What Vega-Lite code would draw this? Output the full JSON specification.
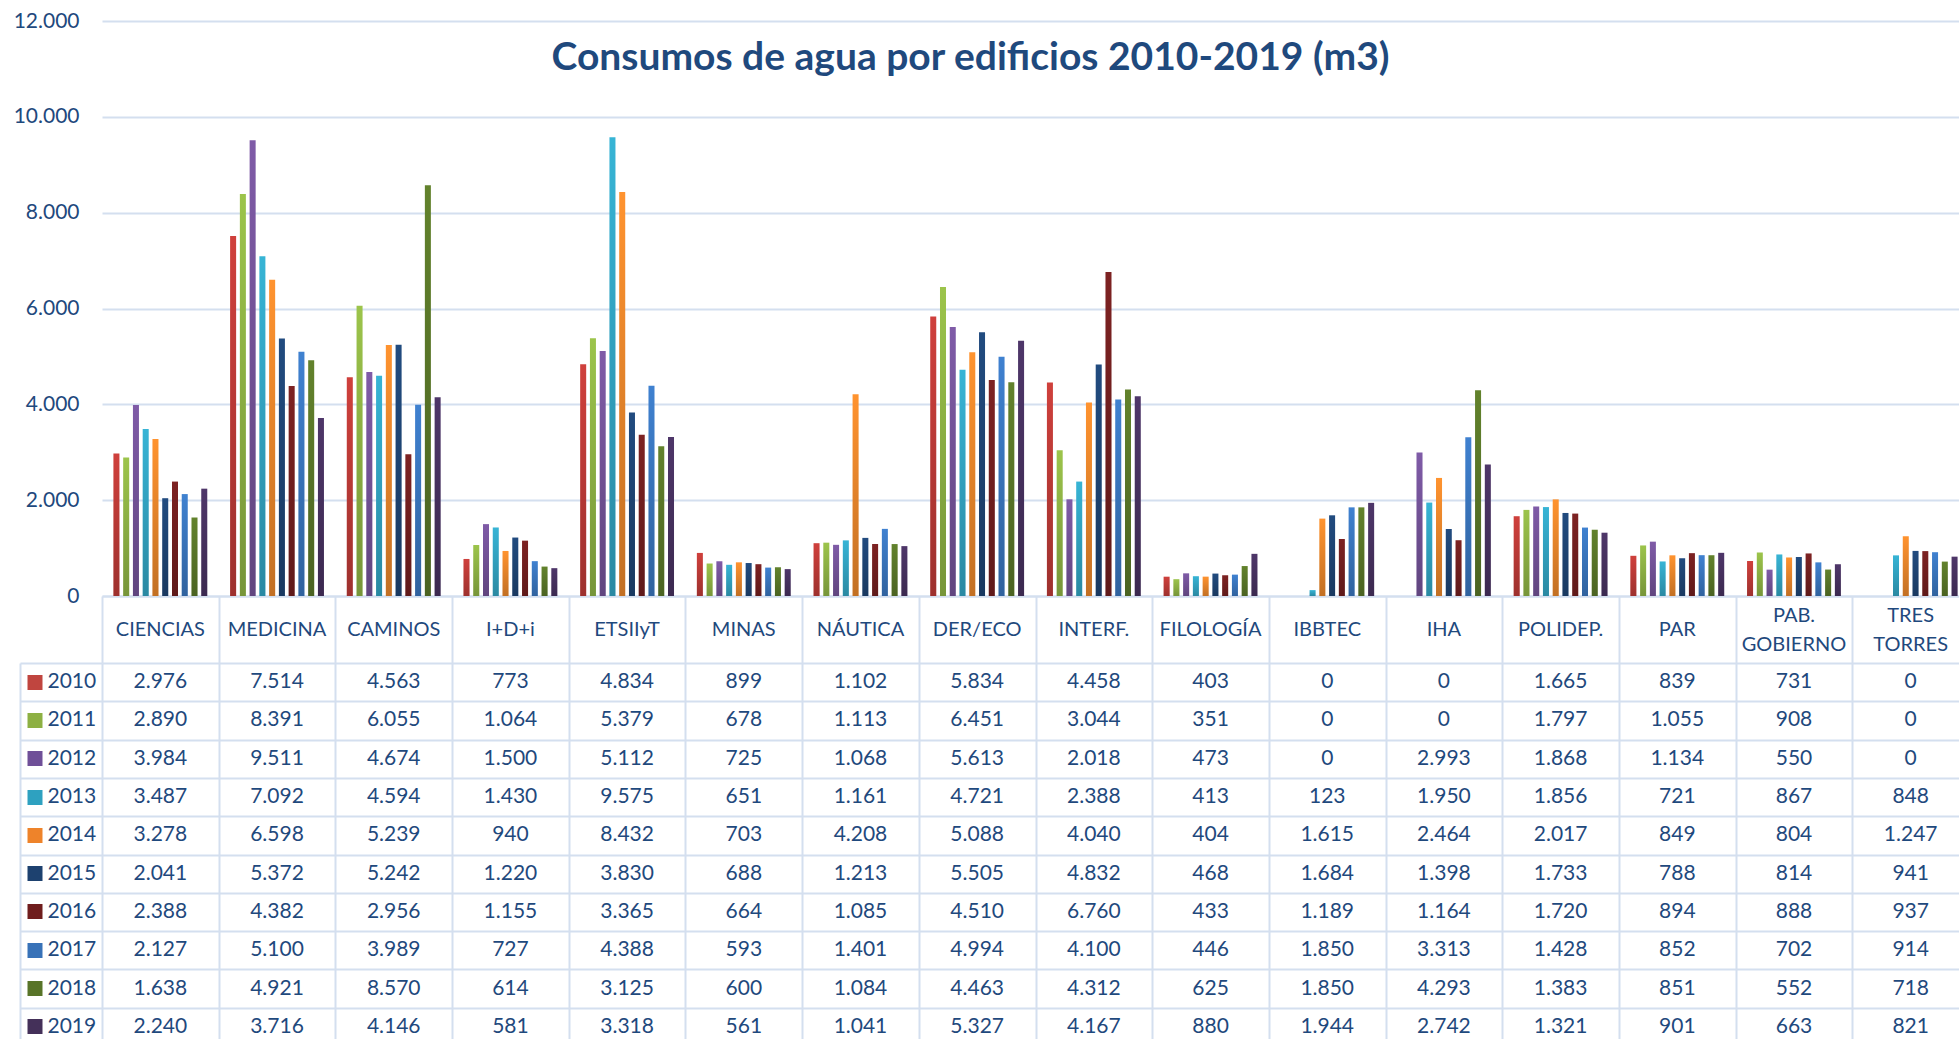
{
  "$schema": "https://vega.github.io/schema/vega-lite/v6.json",
  "usermeta": {"embedOptions": {"actions": false}},
  "background": "white",
  "padding": {"left": 13, "top": 10, "right": 0, "bottom": 0},
  "title": {
    "text": "Consumos de agua por edificios 2010-2019 (m3)",
    "font": "Lato", "fontSize": 39, "fontWeight": "bold", "color": "#1F497D",
    "anchor": "middle", "frame": "group", "offset": -68, "dx": -65
  },
  "data": {"values": [
    {"b": "CIENCIAS", "2010": 2976, "2011": 2890, "2012": 3984, "2013": 3487, "2014": 3278, "2015": 2041, "2016": 2388, "2017": 2127, "2018": 1638, "2019": 2240},
    {"b": "MEDICINA", "2010": 7514, "2011": 8391, "2012": 9511, "2013": 7092, "2014": 6598, "2015": 5372, "2016": 4382, "2017": 5100, "2018": 4921, "2019": 3716},
    {"b": "CAMINOS", "2010": 4563, "2011": 6055, "2012": 4674, "2013": 4594, "2014": 5239, "2015": 5242, "2016": 2956, "2017": 3989, "2018": 8570, "2019": 4146},
    {"b": "I+D+i", "2010": 773, "2011": 1064, "2012": 1500, "2013": 1430, "2014": 940, "2015": 1220, "2016": 1155, "2017": 727, "2018": 614, "2019": 581},
    {"b": "ETSIIyT", "2010": 4834, "2011": 5379, "2012": 5112, "2013": 9575, "2014": 8432, "2015": 3830, "2016": 3365, "2017": 4388, "2018": 3125, "2019": 3318},
    {"b": "MINAS", "2010": 899, "2011": 678, "2012": 725, "2013": 651, "2014": 703, "2015": 688, "2016": 664, "2017": 593, "2018": 600, "2019": 561},
    {"b": "NÁUTICA", "2010": 1102, "2011": 1113, "2012": 1068, "2013": 1161, "2014": 4208, "2015": 1213, "2016": 1085, "2017": 1401, "2018": 1084, "2019": 1041},
    {"b": "DER/ECO", "2010": 5834, "2011": 6451, "2012": 5613, "2013": 4721, "2014": 5088, "2015": 5505, "2016": 4510, "2017": 4994, "2018": 4463, "2019": 5327},
    {"b": "INTERF.", "2010": 4458, "2011": 3044, "2012": 2018, "2013": 2388, "2014": 4040, "2015": 4832, "2016": 6760, "2017": 4100, "2018": 4312, "2019": 4167},
    {"b": "FILOLOGÍA", "2010": 403, "2011": 351, "2012": 473, "2013": 413, "2014": 404, "2015": 468, "2016": 433, "2017": 446, "2018": 625, "2019": 880},
    {"b": "IBBTEC", "2010": 0, "2011": 0, "2012": 0, "2013": 123, "2014": 1615, "2015": 1684, "2016": 1189, "2017": 1850, "2018": 1850, "2019": 1944},
    {"b": "IHA", "2010": 0, "2011": 0, "2012": 2993, "2013": 1950, "2014": 2464, "2015": 1398, "2016": 1164, "2017": 3313, "2018": 4293, "2019": 2742},
    {"b": "POLIDEP.", "2010": 1665, "2011": 1797, "2012": 1868, "2013": 1856, "2014": 2017, "2015": 1733, "2016": 1720, "2017": 1428, "2018": 1383, "2019": 1321},
    {"b": "PAR", "2010": 839, "2011": 1055, "2012": 1134, "2013": 721, "2014": 849, "2015": 788, "2016": 894, "2017": 852, "2018": 851, "2019": 901},
    {"b": "PAB. GOBIERNO", "2010": 731, "2011": 908, "2012": 550, "2013": 867, "2014": 804, "2015": 814, "2016": 888, "2017": 702, "2018": 552, "2019": 663},
    {"b": "TRES TORRES", "2010": 0, "2011": 0, "2012": 0, "2013": 848, "2014": 1247, "2015": 941, "2016": 937, "2017": 914, "2018": 718, "2019": 821}
  ]},
  "spacing": 0,
  "bounds": "flush",
  "vconcat": [
    {
      "width": 1867,
      "height": 575,
      "transform": [{"fold": ["2010", "2011", "2012", "2013", "2014", "2015", "2016", "2017", "2018", "2019"], "as": ["year", "v"]}],
      "encoding": {
        "x": {"field": "b", "type": "nominal", "sort": null,
          "scale": {"type": "band", "paddingInner": 0.17, "paddingOuter": 0.085},
          "axis": {"title": null, "labels": false, "ticks": false, "domain": true, "domainColor": "#D4DFEF", "domainWidth": 2, "grid": false}},
        "xOffset": {"field": "year", "type": "nominal", "scale": {"paddingInner": 0.384, "paddingOuter": 0.154}},
        "y": {"field": "v", "type": "quantitative",
          "scale": {"domain": [0, 12000], "nice": false},
          "axis": {"title": null, "values": [0, 2000, 4000, 6000, 8000, 10000, 12000], "format": ",d",
            "labelFont": "Lato", "labelFontSize": 21, "labelColor": "#1F497D", "labelPadding": 23,
            "ticks": false, "domain": false, "grid": true, "gridColor": "#D4DFEF", "gridWidth": 2}}
      },
      "layer": [
        {
          "mark": {"type": "bar"},
          "encoding": {
            "color": {"field": "year", "type": "nominal", "legend": null,
              "scale": {"range": ["#CF403C", "#9CC44B", "#7F5BA7", "#37B4D5", "#FF932F", "#214B7F", "#7D2222", "#3F81D0", "#62822C", "#4E3669"]}}
          }
        },
        {
          "mark": {"type": "bar", "color": {"gradient": "linear", "x1": 0, "y1": 0, "x2": 0, "y2": 1,
            "stops": [{"offset": 0, "color": "rgba(0,0,0,0)"}, {"offset": 1, "color": "rgba(0,0,0,0.24)"}]}}
        }
      ]
    },
    {
      "width": 1867,
      "height": 67,
      "encoding": {
        "x": {"field": "b", "type": "nominal", "sort": null,
          "scale": {"type": "band", "paddingInner": 0, "paddingOuter": 0},
          "axis": {"title": null, "labels": false, "ticks": false, "domain": false, "grid": true, "tickBand": "extent", "gridColor": "#D4DFEF", "gridWidth": 2}},
        "text": {"field": "b", "type": "nominal"}
      },
      "layer": [
        {
          "transform": [{"filter": "indexof(datum.b, ' ') < 0"}],
          "mark": {"type": "text", "fontSize": 20, "font": "Lato", "color": "#1F497D", "baseline": "middle"}
        },
        {
          "transform": [{"filter": "indexof(datum.b, ' ') >= 0"}],
          "mark": {"type": "text", "lineBreak": " ", "fontSize": 20, "font": "Lato", "color": "#1F497D", "lineHeight": 29, "baseline": "middle", "dy": -14}
        }
      ]
    },
    {
      "width": 1867,
      "height": 383,
      "transform": [{"fold": ["2010", "2011", "2012", "2013", "2014", "2015", "2016", "2017", "2018", "2019"], "as": ["year", "v"]}],
      "layer": [
        {
          "mark": {"type": "text", "fontSize": 21, "font": "Lato", "color": "#1F497D", "baseline": "middle"},
          "encoding": {
            "x": {"field": "b", "type": "nominal", "sort": null,
              "scale": {"type": "band", "paddingInner": 0, "paddingOuter": 0},
              "axis": {"title": null, "labels": false, "ticks": false, "domain": false, "grid": true, "tickBand": "extent", "gridColor": "#D4DFEF", "gridWidth": 2}},
            "y": {"field": "year", "type": "nominal",
              "scale": {"type": "band", "paddingInner": 0, "paddingOuter": 0},
              "axis": {"title": null, "orient": "left", "offset": 82, "labels": false,
                "domain": true, "domainColor": "#D4DFEF", "domainWidth": 2,
                "ticks": true, "tickBand": "extent", "tickSize": -82, "tickColor": "#D4DFEF", "tickWidth": 2,
                "grid": true, "gridColor": "#D4DFEF", "gridWidth": 2}},
            "text": {"field": "v", "type": "quantitative", "format": ",d"}
          }
        },
        {
          "mark": {"type": "text", "text": ""},
          "encoding": {
            "y": {"field": "year", "type": "nominal",
              "scale": {"type": "band", "paddingInner": 0, "paddingOuter": 0},
              "axis": {"title": null, "orient": "left", "offset": 60, "domain": false, "grid": false,
                "ticks": true, "tickSize": 15, "tickWidth": 15,
                "tickColor": {"condition": [
                  {"test": "datum.value === '2010'", "value": "#C0453F"},
                  {"test": "datum.value === '2011'", "value": "#8DB043"},
                  {"test": "datum.value === '2012'", "value": "#6F4F98"},
                  {"test": "datum.value === '2013'", "value": "#2EA1C0"},
                  {"test": "datum.value === '2014'", "value": "#EE832A"},
                  {"test": "datum.value === '2015'", "value": "#1D416F"},
                  {"test": "datum.value === '2016'", "value": "#6F1D1D"},
                  {"test": "datum.value === '2017'", "value": "#3872B8"},
                  {"test": "datum.value === '2018'", "value": "#587428"}
                ], "value": "#443059"},
                "labels": true, "labelAlign": "left", "labelPadding": -20, "labelBaseline": "middle",
                "labelFont": "Lato", "labelFontSize": 21, "labelColor": "#1F497D"}}
          }
        }
      ],
      "resolve": {"axis": {"y": "independent"}}
    }
  ],
  "config": {
    "view": {"stroke": null},
    "font": "Lato",
    "locale": {"number": {"decimal": ",", "thousands": ".", "grouping": [3], "currency": ["", " €"]}}
  }
}
